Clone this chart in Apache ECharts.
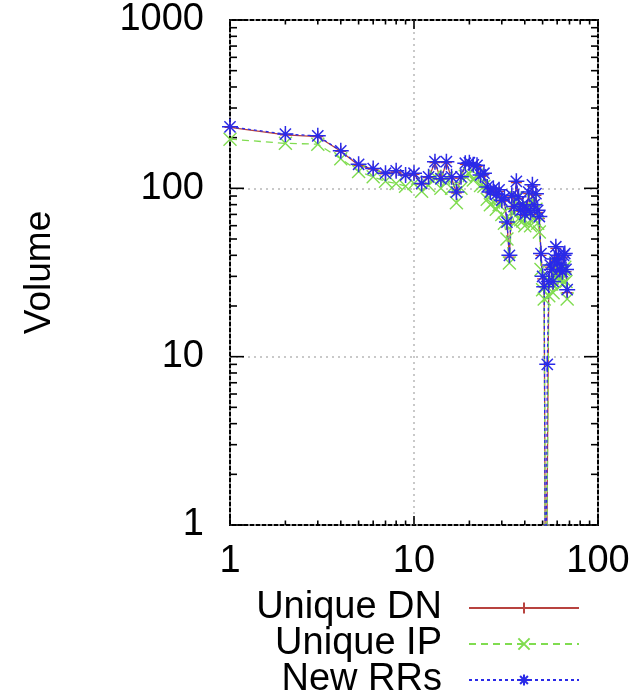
<!DOCTYPE html>
<html><head><meta charset="utf-8">
<script src="https://cdn.jsdelivr.net/npm/echarts@6/dist/echarts.min.js"></script>
<style>html,body{margin:0;padding:0;background:#fff}#c{width:643px;height:694px}</style>
</head><body><div id="c"></div>
<script>
// x positions (rank)
const xValues = [1,2,3,4,5,6,7,8,9,10,11,12,13,14,15,16,17,18,19,20,21,22,23,24,25,26,27,28,29,30,31,32,33,34,35,36,37,38,39,40,41,42,43,44,45,46,47,48,49,50,51,52,53,54,55,56,57,58,59,60,61,62,63,64,65,66,67,68];
const uniqueDN = [230,208,203,166,137,130,122,125,119,121,106,116,142,113,142,115,94,115,139,140,136,135,118,121,100,94,98,91,96,84,86,62,39,89,76,108,87,73,78,69,75,93,70,103,78,91,72,66,40,29,26,0.1,0.1,27,34,32,27,37,44,35,39,32,34,31,39,40,32,24];
const uniqueIP = [196,185,183,150,126,117,110,107,103,107,96,104,118,100,115,100,82,100,118,122,112,120,104,103,86,80,83,75,80,70,62,50,36,72,62,88,76,65,64,60,68,78,60,85,66,75,62,55,33,25,22,0.1,0.1,23,28,27,24,31,36,30,33,28,29,27,33,34,28,22];
const newRRs = [232,210,205,167,139,131,123,127,120,123,107,117,144,114,144,117,95,117,141,142,138,137,120,123,102,95,100,92,98,85,88,63,40,91,78,110,89,74,80,70,76,95,72,105,80,93,74,68,41,30,26,0.1,9,28,35,33,28,38,45,36,40,33,35,32,40,41,33,25];
const seriesNames = ['Unique DN','Unique IP','New RRs'];
const xTickValues = [1,2,3,4,5,6,7,8,9,10,20,30,40,50,60,70,80,90,100];
const yTickValues = [1,2,3,4,5,6,7,8,9,10,20,30,40,50,60,70,80,90,100,200,300,400,500,600,700,800,900,1000];
const yAxisTitle = 'Volume';

const FONT = 'Liberation Sans';
const colDN = '#b8433f', colIP = '#80dc50', colRR = '#2a2ae8';
const symPlus = 'path://M5,0L5,10M0,5L10,5';
const symCross = 'path://M0,0L10,10M0,10L10,0';
const symStar = 'path://M5,0L5,10M0,5L10,5M1.5,1.5L8.5,8.5M1.5,8.5L8.5,1.5';

function pairs(ys){ return xValues.map((x,i)=>[x, ys[i]]); }
function isMajor(v){ const l = Math.log10(v); return Math.abs(l-Math.round(l))<1e-9; }

const chart = echarts.init(document.getElementById('c'), null, {renderer:'canvas'});
chart.setOption({
  animation:false,
  backgroundColor:'#fff',
  grid:{left:230, right:45, top:20, bottom:169, show:true, borderColor:'#000', borderWidth:2, backgroundColor:'transparent'},
  xAxis:{type:'log', logBase:10, min:1, max:100,
    axisLine:{show:false}, axisTick:{show:false},
    axisLabel:{fontFamily:FONT, fontSize:38, color:'#000', margin:18, formatter:v=>String(Math.round(v))},
    splitLine:{show:true, lineStyle:{color:'#b8b8b8', type:[2,4], width:1.5}}},
  yAxis:{type:'log', logBase:10, min:1, max:1000,
    name:yAxisTitle, nameLocation:'middle', nameGap:172, nameRotate:90,
    nameTextStyle:{fontFamily:FONT, fontSize:37, color:'#000'},
    axisLine:{show:false}, axisTick:{show:false},
    axisLabel:{fontFamily:FONT, fontSize:38, color:'#000', margin:26, formatter:v=>String(Math.round(v))},
    splitLine:{show:true, lineStyle:{color:'#b8b8b8', type:[2,4], width:1.5}}},
  legend:[
    {data:[seriesNames[0]], right:58, top:584, orient:'vertical', align:'right', itemWidth:110, itemHeight:14,
     textStyle:{fontFamily:FONT, fontSize:38, color:'#000', padding:[0,22,0,0]}},
    {data:[seriesNames[1]], right:58, top:620, orient:'vertical', align:'right', itemWidth:110, itemHeight:14,
     textStyle:{fontFamily:FONT, fontSize:38, color:'#000', padding:[0,22,0,0]}},
    {data:[seriesNames[2]], right:58, top:656, orient:'vertical', align:'right', itemWidth:110, itemHeight:14,
     textStyle:{fontFamily:FONT, fontSize:38, color:'#000', padding:[0,22,0,0]}}
  ],
  series:[
    {name:seriesNames[0], type:'line', data:pairs(uniqueDN), clip:true,
     symbol:symPlus, symbolSize:11, showAllSymbol:true,
     itemStyle:{color:colDN, borderColor:colDN, borderWidth:1.3},
     lineStyle:{color:colDN, width:1.3, type:'solid'}},
    {name:seriesNames[1], type:'line', data:pairs(uniqueIP), clip:true,
     symbol:symCross, symbolSize:13, showAllSymbol:true,
     itemStyle:{color:colIP, borderColor:colIP, borderWidth:1.4},
     lineStyle:{color:colIP, width:1.3, type:[7,5]}},
    {name:seriesNames[2], type:'line', data:pairs(newRRs), clip:true,
     symbol:symStar, symbolSize:16, showAllSymbol:true,
     itemStyle:{color:colRR, borderColor:colRR, borderWidth:1.5},
     lineStyle:{color:colRR, width:1.3, type:[3,3]}},
    {type:'custom', silent:true, clip:false, data:xTickValues.map(v=>[v,1]),
     renderItem:function(params, api){
       const v = api.value(0); const p = api.coord([v,1]); const cs = params.coordSys;
       const len = isMajor(v) ? 9 : 4.5;
       const st = {stroke:'#000', lineWidth:1.6};
       return {type:'group', children:[
         {type:'line', shape:{x1:p[0], y1:cs.y+cs.height, x2:p[0], y2:cs.y+cs.height-len}, style:st},
         {type:'line', shape:{x1:p[0], y1:cs.y, x2:p[0], y2:cs.y+len}, style:st}
       ]};
     }},
    {type:'custom', silent:true, clip:false, data:yTickValues.map(v=>[1,v]),
     renderItem:function(params, api){
       const v = api.value(1); const p = api.coord([1,v]); const cs = params.coordSys;
       const len = isMajor(v) ? 14 : 7;
       const st = {stroke:'#000', lineWidth:1.6};
       return {type:'group', children:[
         {type:'line', shape:{x1:cs.x, y1:p[1], x2:cs.x+len, y2:p[1]}, style:st},
         {type:'line', shape:{x1:cs.x+cs.width, y1:p[1], x2:cs.x+cs.width-len, y2:p[1]}, style:st}
       ]};
     }}
  ]
});
</script></body></html>
